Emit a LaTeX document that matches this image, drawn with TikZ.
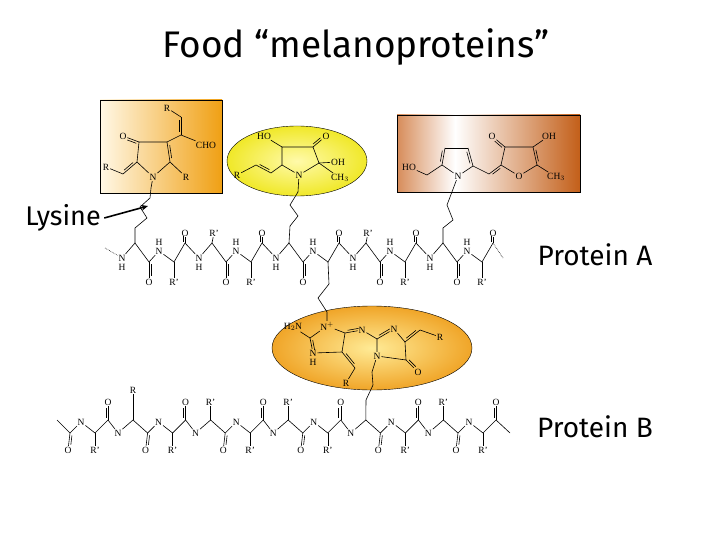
\documentclass[tikz,border=0pt]{standalone}
\usepackage{fontspec}
\setmainfont{Liberation Serif}
\newfontfamily\titlefont{Fira Sans}
\usetikzlibrary{calc,arrows.meta}
\newcommand\chemf{\fontsize{9.5}{9.5}\selectfont}
\newcommand\dbond[2]{\draw[bond] (#1) -- (#2); \draw[bond] ($(#1)!0.18!(#2)!2.2pt!90:(#2)$) -- ($(#2)!0.18!(#1)!2.2pt!-90:(#1)$);}
\newcommand\dbondl[2]{\draw[bond] (#1) -- (#2); \draw[bond] ($(#1)!0.12!(#2)!2.2pt!90:(#2)$) -- ($(#2)!0.32!(#1)!2.2pt!-90:(#1)$);}
\tikzset{lab/.style={font=\chemf, inner sep=0.8pt}, bond/.style={line width=0.6pt}}
\begin{document}
\begin{tikzpicture}[x=1pt,y=-1pt]
\useasboundingbox (0,0) rectangle (720,540);
\fill[white] (0,0) rectangle (720,540);
% title
\node[font=\titlefont\fontsize{37}{37}\selectfont] (title) at (356,47) {Food “melanoproteins”};
% backgrounds
\shade[left color={rgb,255:red,255;green,248;blue,230}, right color={rgb,255:red,240;green,160;blue,20}, draw=black, line width=0.4pt] (100,100) rectangle (222,193);
\shade[inner color={rgb,255:red,255;green,250;blue,170}, outer color={rgb,255:red,240;green,232;blue,40}, draw=black, line width=0.4pt] (297,161) ellipse (70 and 35);
\shade[left color={rgb,255:red,215;green,140;blue,90}, right color=white] (397,115) rectangle (455,192);
\shade[left color=white, right color={rgb,255:red,195;green,95;blue,25}] (455,115) rectangle (580,192);
\draw[line width=0.4pt] (397,115) rectangle (580,192);
\shade[inner color={rgb,255:red,255;green,235;blue,150}, outer color={rgb,255:red,240;green,165;blue,40}, draw=black, line width=0.4pt] (372,348) ellipse (100 and 42);

% ---- Ring 1 (orange box)
\node[lab] (r1N) at (153,177) {N};
\coordinate (r1c2) at (137,162); \coordinate (r1c3) at (139,142);
\coordinate (r1c4) at (167,142); \coordinate (r1c5) at (170,162);
\node[lab] (r1O) at (123,136) {O};
\coordinate (r1x) at (123,174); \node[lab] (r1R1) at (106,167) {R};
\node[lab] (r1R2) at (186,177) {R};
\coordinate (r1y) at (181,135); \coordinate (r1z) at (181,117);
\node[lab] (r1R3) at (167,108) {R};
\node[lab] (r1cho) at (206,145) {CHO};
\draw[bond] (r1N)--(r1c2)--(r1c3)--(r1c4); \dbond{r1c4}{r1c5}; \draw[bond] (r1c5)--(r1N);
\dbondl{r1c3}{r1O}; \dbond{r1x}{r1c2}; \draw[bond] (r1x)--(r1R1);
\draw[bond] (r1c5)--(r1R2); \draw[bond] (r1c4)--(r1y); \dbond{r1y}{r1z};
\draw[bond] (r1z)--(r1R3); \draw[bond] (r1y)--(r1cho);

% ---- Ring 2 (yellow ellipse)
\node[lab] (r2N) at (299,175) {N};
\coordinate (r2c2) at (282,165); \coordinate (r2c3) at (282,147);
\coordinate (r2c4) at (313,147); \coordinate (r2c5) at (319,163);
\node[lab] (r2HO) at (264,136) {HO};
\node[lab] (r2O) at (326,136) {O};
\node[lab] (r2OH) at (338,162) {OH};
\node[lab] (r2Me) at (340,178) {CH$_3$};
\coordinate (r2x) at (271,173); \coordinate (r2y) at (256,165);
\node[lab] (r2R) at (237,175) {R};
\draw[bond] (r2N)--(r2c2)--(r2c3)--(r2c4)--(r2c5)--(r2N);
\draw[bond] (r2c3)--(r2HO); \dbondl{r2c4}{r2O};
\draw[bond] (r2c5)--(r2OH); \draw[bond] (r2c5)--(r2Me);
\draw[bond] (r2c2)--(r2x); \dbond{r2y}{r2x}; \draw[bond] (r2y)--(r2R);

% ---- Ring 3 (brown box)
\node[lab] (r3N) at (458,176) {N};
\coordinate (r3c2) at (442,165); \coordinate (r3c3) at (445,148);
\coordinate (r3c4) at (468,148); \coordinate (r3c5) at (473,166);
\coordinate (r3ch) at (427,175); \node[lab] (r3HO) at (409,167) {HO};
\coordinate (r3x) at (489,174); \coordinate (r3f2) at (501,165);
\node[lab] (r3O) at (519,176) {O};
\coordinate (r3f5) at (537,165); \coordinate (r3f4) at (533,147); \coordinate (r3f3) at (505,147);
\node[lab] (r3Me) at (556,177) {CH$_3$};
\node[lab] (r3OH) at (549,136) {OH};
\node[lab] (r3OO) at (492,136) {O};
\draw[bond] (r3N)--(r3c2); \dbond{r3c2}{r3c3}; \draw[bond] (r3c3)--(r3c4); \dbond{r3c5}{r3c4}; \draw[bond] (r3c5)--(r3N);
\draw[bond] (r3c2)--(r3ch)--(r3HO); \draw[bond] (r3c5)--(r3x); \dbond{r3f2}{r3x};
\draw[bond] (r3f2)--(r3O)--(r3f5); \dbond{r3f4}{r3f5}; \draw[bond] (r3f4)--(r3f3)--(r3f2);
\draw[bond] (r3f5)--(r3Me); \draw[bond] (r3f4)--(r3OH); \dbondl{r3f3}{r3OO};

% ---- Ring 4 (crosslink ellipse)
\node[lab] (r4H2N) at (293,327) {H$_2$N};
\node[lab] (r4Np) at (327,326) {N$^{+}$};
\coordinate (r4c2) at (310,338);
\node[lab] (r4NH) at (313,353) {N}; \node[lab] at (313,362) {H};
\coordinate (r4c4) at (342,352); \coordinate (r4c5) at (345,333);
\node[lab] (r4Nm) at (362,330) {N};
\coordinate (r4d2) at (377,339);
\node[lab] (r4N3) at (394,329) {N};
\coordinate (r4d4) at (405,342); \coordinate (r4d5) at (406,360);
\node[lab] (r4N1) at (377,356) {N};
\node[lab] (r4O) at (418,372) {O};
\coordinate (r4e) at (420,330); \node[lab] (r4R1) at (440,337) {R};
\coordinate (r4f) at (355,368); \node[lab] (r4R2) at (346,383) {R};
\draw[bond] (r4H2N)--(r4c2); \dbond{r4c2}{r4NH}; \draw[bond] (r4c2)--(r4Np)--(r4c5)--(r4c4)--(r4NH);
\dbond{r4c5}{r4Nm}; \draw[bond] (r4Nm)--(r4d2); \dbond{r4d2}{r4N3}; \draw[bond] (r4N3)--(r4d4)--(r4d5)--(r4N1)--(r4d2);
\dbondl{r4d5}{r4O}; \dbond{r4d4}{r4e}; \draw[bond] (r4e)--(r4R1);
\dbond{r4c4}{r4f}; \draw[bond] (r4f)--(r4R2);

% ---- Protein A
\foreach \k in {0,...,4}{
 \pgfmathsetmacro\x{122+77*\k}
 \node[lab] (aN\k) at (\x,258) {N};
 \node[lab] at (\x,267) {H};
 \coordinate (aA\k) at (\x+13,243);
 \coordinate (aC\k) at (\x+27,262);
 \node[lab] (aO\k) at (\x+27,282) {O};
 \node[lab] (aM\k) at (\x+37,251) {N};
 \node[lab] at (\x+37,242) {H};
 \coordinate (aB\k) at (\x+52,262);
 \coordinate (aD\k) at (\x+63,243);
 \node[lab] (aP\k) at (\x+63,233) {O};
 \draw[bond] (aN\k)--(aA\k)--(aC\k)--(aM\k)--(aB\k)--(aD\k);
 \dbondl{aC\k}{aO\k}; \dbondl{aD\k}{aP\k};
}
\foreach \k/\n in {0/1,1/2,2/3,3/4}{ \draw[bond] (aD\k)--(aN\n); }
\foreach \k in {0,1,3,4}{
 \pgfmathsetmacro\x{122+77*\k}
 \node[lab] (aR\k) at (\x+52,282) {R'};
 \draw[bond] (aB\k)--(aR\k);
}
\foreach \k in {1,3}{
 \pgfmathsetmacro\x{122+77*\k}
 \node[lab] (aT\k) at (\x+15,233) {R'};
 \draw[bond] (aA\k)--(aT\k);
}
\coordinate (aS) at (105,248); \coordinate (aE) at (503,258);
\draw[bond, densely dotted] (aS)--(aN0);
\draw[bond, densely dotted] (aD4)--(aE);
% lysine chains
\draw[bond] (aA0)--(135,228)--(147,218)--(140,207)--(150,198)--(151,188)--(r1N);
\draw[bond] (aA2)--(290,226)--(298,216)--(290,205)--(298,192)--(r2N);
\draw[bond] (aA4)--(443,228)--(453,220)--(447,205)--(r3N);
\draw[bond] (aB2)--(329,284)--(318,298)--(327,312)--(r4Np);

% ---- Protein B
\foreach \k in {0,...,5}{
 \pgfmathsetmacro\x{70+77.6*\k}
 \coordinate (bC\k) at (\x,433);
 \node[lab] (bO\k) at (\x-2,450) {O};
 \node[lab] (bN\k) at (\x+11,422) {N};
 \coordinate (bA\k) at (\x+25,433);
 \node[lab] (bR\k) at (\x+25,450) {R'};
 \coordinate (bD\k) at (\x+38,420);
 \node[lab] (bP\k) at (\x+38,402) {O};
 \draw[bond] (bC\k)--(bN\k)--(bA\k)--(bD\k);
 \draw[bond] (bA\k)--(bR\k);
 \dbondl{bC\k}{bO\k}; \dbondl{bD\k}{bP\k};
}
\foreach \k/\n in {0/1,1/2,2/3,3/4,4/5}{
 \pgfmathsetmacro\x{70+77.6*\k}
 \node[lab] (bM\k) at (\x+48,433) {N};
 \coordinate (bB\k) at (\x+63,420);
 \draw[bond] (bD\k)--(bM\k)--(bB\k)--(bC\n);
}
\foreach \k in {1,2,4}{
 \pgfmathsetmacro\x{70+77.6*\k}
 \node[lab] (bT\k) at (\x+63,402) {R'};
 \draw[bond] (bB\k)--(bT\k);
}
\node[lab] (bT0) at (133,390) {R};
\draw[bond] (bB0)--(bT0);
\coordinate (bS) at (57,420); \coordinate (bE) at (510,433);
\draw[bond] (bS)--(bC0); \draw[bond] (bD5)--(bE);
\draw[bond] (bB3)--(366,400)--(373,385)--(372,372)--(r4N1);

% ---- captions
\node[font=\titlefont\fontsize{27}{27}\selectfont] (lys) at (63,218) {Lysine};
\draw[line width=1.6pt, -{Stealth[length=7pt,width=6pt]}] (lys.east) -- (148,206);
\node[font=\titlefont\fontsize{28}{28}\selectfont] (pA) at (595,255) {Protein A};
\node[font=\titlefont\fontsize{28}{28}\selectfont] (pB) at (595,427) {Protein B};
\end{tikzpicture}
\end{document}
